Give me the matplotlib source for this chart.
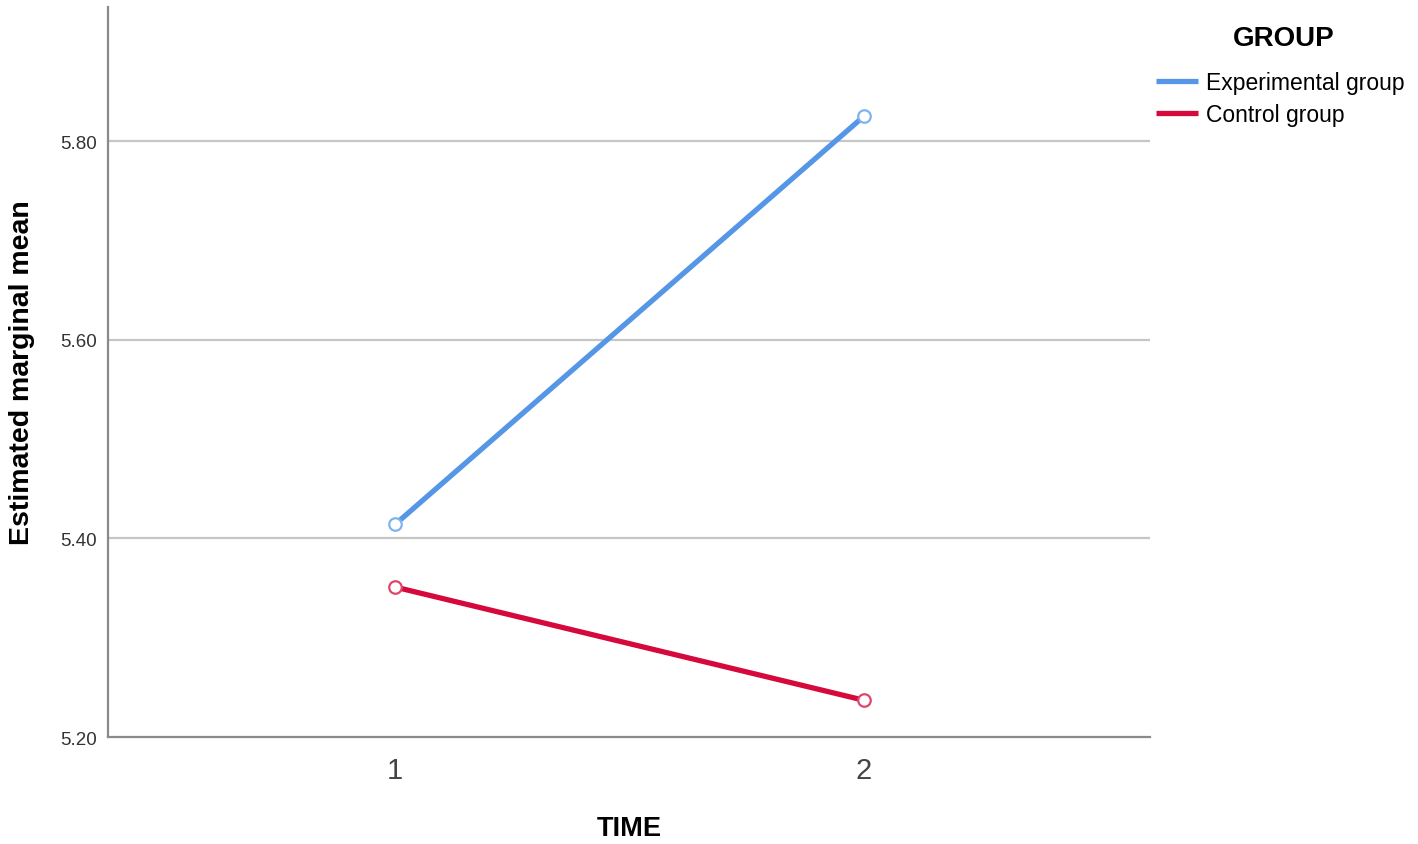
import matplotlib
matplotlib.use("Agg")
import matplotlib.pyplot as plt

plt.rcParams['font.family'] = ['Liberation Sans', 'DejaVu Sans']

# data
time_points = [1, 2]
experimental = [5.414, 5.825]
control = [5.351, 5.237]
group_names = ['Experimental group', 'Control group']
y_ticks = [5.20, 5.40, 5.60, 5.80]

blue = '#5596e6'
red = '#d5093c'

fig = plt.figure(figsize=(14.18, 8.45), dpi=100)
ax = fig.add_axes([0.0762, 0.1266, 0.7348, 0.864])

# lines with hollow circle markers
ax.plot(time_points, experimental, color=blue, lw=3.8, solid_capstyle='round',
        marker='o', markersize=9, markerfacecolor='white', markeredgecolor='#7fb2f0',
        markeredgewidth=1.6, label=group_names[0], zorder=3)
ax.plot(time_points, control, color=red, lw=3.8, solid_capstyle='round',
        marker='o', markersize=9, markerfacecolor='white', markeredgecolor='#e0456b',
        markeredgewidth=1.6, label=group_names[1], zorder=3)

ax.set_xlim(0.388, 2.61)
ax.set_ylim(5.20, 5.935)
ax.set_xticks(time_points)
ax.set_xticklabels([str(t) for t in time_points])
ax.set_yticks(y_ticks)
ax.set_yticklabels(['%.2f' % v for v in y_ticks])

# gridlines
for v in y_ticks[1:]:
    ax.axhline(v, color='#c6c6c6', lw=1.6, zorder=1)

for s in ['top', 'right']:
    ax.spines[s].set_visible(False)
for s in ['left', 'bottom']:
    ax.spines[s].set_color('#8a8a8a')
    ax.spines[s].set_linewidth(1.6)

ax.tick_params(axis='y', length=0, pad=8, labelsize=13.5, labelcolor='#333333')
ax.tick_params(axis='x', length=0, pad=14, labelsize=21, labelcolor='#444444')

ax.set_xlabel('TIME', fontsize=19.5, fontweight='bold', labelpad=22)
ax.set_ylabel('Estimated marginal mean', fontsize=20.5, fontweight='bold', labelpad=18)

# legend on the right, outside the plot (title drawn separately)
leg = fig.legend(handles=ax.get_lines(), labels=group_names, loc='upper left',
                 bbox_to_anchor=(0.801, 0.9396), frameon=False,
                 fontsize=16.5, handlelength=1.8, handletextpad=0.35,
                 labelspacing=0.4, borderpad=0.9, borderaxespad=0)
for h in leg.get_lines():
    h.set_marker('')
    h.set_linewidth(3.8)
    h.set_solid_capstyle('butt')
fig.text(0.905, 0.954, 'GROUP', fontsize=20, fontweight='bold', ha='center', va='center')

fig.savefig('out.png', dpi=100)
